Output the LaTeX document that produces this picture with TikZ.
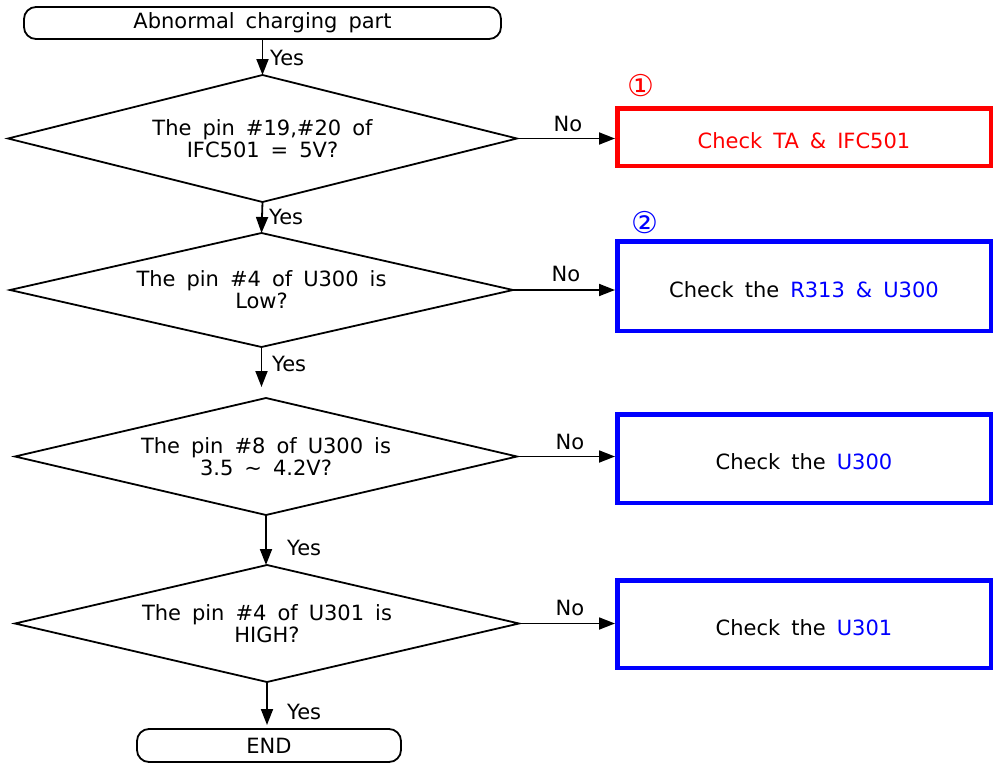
\documentclass[tikz,border=0pt]{standalone}
\usepackage{fontspec}
\setmainfont{DejaVu Sans}
\usetikzlibrary{shapes.geometric,arrows.meta}
\definecolor{pred}{RGB}{255,0,0}
\definecolor{pblue}{RGB}{0,0,255}
\newcommand\mytxtfont{\fontsize{21}{22}\selectfont\spaceskip 11pt\relax}
\newcommand\mycircfont{\fontsize{30}{30}\selectfont}
\tikzset{
  txt/.style={font=\mytxtfont, align=center},
  term/.style={txt, draw, line width=1.8pt, rounded corners=12pt, inner sep=0pt, outer sep=0pt},
  decision/.style={txt, draw, diamond, line width=1.8pt, inner sep=0pt, outer sep=0pt},
  actbox/.style={txt, draw, line width=4.5pt, minimum width=373.5pt, inner sep=0pt, text height=22pt, text depth=0pt},
  arr/.style={line width=1.8pt, -{Triangle[length=16pt,width=12pt]}},
  lbl/.style={txt, inner sep=0pt},
}
\begin{document}
\begin{tikzpicture}[x=1pt,y=-1pt]
\useasboundingbox (0,0) rectangle (997,763);
% terminators
\node[term, minimum width=477pt, minimum height=32pt] (start) at (262.5,23) {Abnormal charging part};
\node[term, minimum width=264pt, minimum height=33pt] (end) at (269,745.5) {END};
% decisions
\node[decision, aspect=4.008, minimum width=509pt, minimum height=127pt] (d1) at (262.5,138.5) {The pin \#19,\#20 of\\IFC501 = 5V?};
\node[decision, aspect=4.412, minimum width=503pt, minimum height=114pt] (d2) at (261.5,290) {The pin \#4 of U300 is\\Low?};
\node[decision, aspect=4.291, minimum width=502pt, minimum height=117pt] (d3) at (266,456.5) {The pin \#8 of U300 is\\3.5 \char"7E{} 4.2V?};
\node[decision, aspect=4.308, minimum width=504pt, minimum height=117pt] (d4) at (267,623.5) {The pin \#4 of U301 is\\HIGH?};
% action boxes
\node[actbox, draw=pred, text=pred, minimum height=57.5pt] (b1) at (804,137) {Check TA \& IFC501};
\node[actbox, draw=pblue, minimum height=89.5pt] (b2) at (804,286) {Check the \textcolor{pblue}{R313 \& U300}};
\node[actbox, draw=pblue, minimum height=88.5pt] (b3) at (804,458.5) {Check the \textcolor{pblue}{U300}};
\node[actbox, draw=pblue, minimum height=87.5pt] (b4) at (804,624) {Check the \textcolor{pblue}{U301}};
% circled numbers
\node[lbl, text=pred, font=\mycircfont] (n1) at (641,86) {①};
\node[lbl, text=pblue, font=\mycircfont] (n2) at (645,223) {②};
% vertical connectors
\draw[arr] (start.south) -- (d1.north);
\draw[arr] (d1.south) -- (d2.north);
\draw[arr, shorten >=11pt] (d2.south) -- (d2.south |- d3.north);
\draw[arr] (d3.south) -- (d3.south |- d4.north);
\draw[arr, shorten >=4pt] (d4.south) -- (d4.south |- end.north);
% horizontal connectors
\draw[arr] (d1.east) -- (d1.east -| b1.west);
\draw[arr] (d2.east) -- (d2.east -| b2.west);
\draw[arr] (d3.east) -- (d3.east -| b3.west);
\draw[arr] (d4.east) -- (d4.east -| b4.west);
% labels
\node[lbl, anchor=west] (y1) at (270,58) {Yes};
\node[lbl, anchor=west] (y2) at (269,217) {Yes};
\node[lbl, anchor=west] (y3) at (272,364) {Yes};
\node[lbl, anchor=west] (y4) at (287,548) {Yes};
\node[lbl, anchor=west] (y5) at (287,712) {Yes};
\node[lbl] (no1) at (568,124) {No};
\node[lbl] (no2) at (566,274) {No};
\node[lbl] (no3) at (570,442) {No};
\node[lbl] (no4) at (570,608) {No};
\end{tikzpicture}
\end{document}
